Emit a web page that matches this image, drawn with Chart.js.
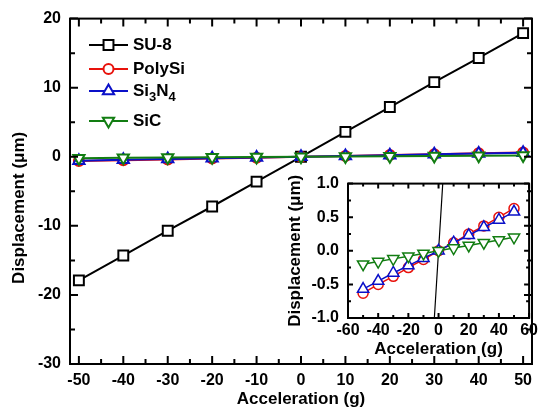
<!DOCTYPE html>
<html>
<head>
<meta charset="utf-8">
<script src="https://cdn.jsdelivr.net/npm/chart.js@4"></script>
<style>
  body { margin: 0; background: #fff; }
  #wrap { position: relative; width: 541px; height: 414px; }
  #main { position: absolute; left: 0; top: 0; }
  #inset { position: absolute; left: 283px; top: 165px; }
</style>
</head>
<body>
<div id="wrap">
  <canvas id="main" width="541" height="414"></canvas>
  <canvas id="inset" width="258" height="195"></canvas>
</div>
<script>
const accel = [-50, -40, -30, -20, -10, 0, 10, 20, 30, 40, 50];
const su8 = [-17.9, -14.3, -10.7, -7.2, -3.6, 0, 3.6, 7.2, 10.8, 14.3, 17.9];
const polySi = [-0.63, -0.50, -0.38, -0.25, -0.13, 0, 0.12, 0.25, 0.37, 0.50, 0.63];
const si3n4 = [-0.57, -0.45, -0.33, -0.22, -0.11, 0, 0.12, 0.23, 0.35, 0.46, 0.58];
const siC = [-0.20, -0.16, -0.12, -0.08, -0.04, 0, 0.04, 0.08, 0.12, 0.16, 0.20];

const mainXTicks = [-50, -40, -30, -20, -10, 0, 10, 20, 30, 40, 50];
const mainYTicks = [-30, -20, -10, 0, 10, 20];
const insetXTicks = [-60, -40, -20, 0, 20, 40, 60];
const insetYTicks = [-1.0, -0.5, 0.0, 0.5, 1.0];

Chart.defaults.font.family = "Arial, 'Liberation Sans', sans-serif";
Chart.defaults.font.weight = 'bold';
Chart.defaults.color = '#000';

const pts = (ys) => accel.map((x, i) => ({ x, y: ys[i] }));

// frame + inward ticks on all four sides
const boxTicks = {
  id: 'boxTicks',
  afterDraw(chart, args, o) {
    const { ctx, chartArea: a, scales: { x, y } } = chart;
    ctx.save();
    ctx.strokeStyle = '#000';
    ctx.lineWidth = o.lw;
    ctx.strokeRect(a.left, a.top, a.right - a.left, a.bottom - a.top);
    const isMajor = (v, step) => Math.abs(v / step - Math.round(v / step)) < 1e-6;
    ctx.beginPath();
    for (let v = Math.ceil(x.min / o.xMinor) * o.xMinor; v <= x.max + 1e-9; v += o.xMinor) {
      const px = x.getPixelForValue(v);
      const len = isMajor(v, o.xMajor) ? o.major : o.minor;
      ctx.moveTo(px, a.bottom); ctx.lineTo(px, a.bottom - len);
      ctx.moveTo(px, a.top); ctx.lineTo(px, a.top + len);
    }
    for (let v = Math.ceil(y.min / o.yMinor - 1e-9) * o.yMinor; v <= y.max + 1e-9; v += o.yMinor) {
      const py = y.getPixelForValue(v);
      const len = isMajor(v, o.yMajor) ? o.major : o.minor;
      ctx.moveTo(a.left, py); ctx.lineTo(a.left + len, py);
      ctx.moveTo(a.right, py); ctx.lineTo(a.right - len, py);
    }
    ctx.stroke();
    ctx.restore();
  }
};

function drawMarker(ctx, style, x, y, r, rot) {
  ctx.beginPath();
  if (style === 'rect') {
    const s = r * Math.SQRT1_2;
    ctx.rect(x - s, y - s, 2 * s, 2 * s);
  } else if (style === 'circle') {
    ctx.arc(x, y, r, 0, Math.PI * 2);
  } else {
    const d = rot ? -1 : 1;
    ctx.moveTo(x, y - d * r);
    ctx.lineTo(x - r * 0.866, y + d * r * 0.5);
    ctx.lineTo(x + r * 0.866, y + d * r * 0.5);
    ctx.closePath();
  }
  ctx.fill();
  ctx.stroke();
}

// legend with subscripts, inside the plot
const legendItems = [
  { parts: [['SU-8', 0]], color: '#000000', style: 'rect', r: 7, rot: 0, y: 45 },
  { parts: [['PolySi', 0]], color: '#e8120c', style: 'circle', r: 5, rot: 0, y: 69 },
  { parts: [['Si', 0], ['3', 1], ['N', 0], ['4', 1]], color: '#0a10c8', style: 'triangle', r: 6.5, rot: 0, y: 91 },
  { parts: [['SiC', 0]], color: '#127d12', style: 'triangle', r: 6.5, rot: 1, y: 121 }
];
const innerLegend = {
  id: 'innerLegend',
  afterDraw(chart) {
    const ctx = chart.ctx;
    ctx.save();
    legendItems.forEach(it => {
      ctx.strokeStyle = it.color;
      ctx.lineWidth = 2;
      ctx.beginPath(); ctx.moveTo(89, it.y); ctx.lineTo(128, it.y); ctx.stroke();
      ctx.fillStyle = '#fff';
      drawMarker(ctx, it.style, 108.5, it.y, it.r, it.rot);
      ctx.fillStyle = '#000';
      ctx.textBaseline = 'middle';
      let tx = 133;
      it.parts.forEach(([t, sub]) => {
        ctx.font = sub ? "bold 13px Arial, 'Liberation Sans', sans-serif" : "bold 17px Arial, 'Liberation Sans', sans-serif";
        ctx.fillText(t, tx, it.y + (sub ? 6 : 0));
        tx += ctx.measureText(t).width;
      });
    });
    ctx.restore();
  }
};

new Chart(document.getElementById('main'), {
  type: 'line',
  data: {
    datasets: [
      { label: 'SU-8', data: pts(su8), borderColor: '#000', pointStyle: 'rect', pointRadius: 7, order: 3 },
      { label: 'PolySi', data: pts(polySi), borderColor: '#e8120c', pointStyle: 'circle', pointRadius: 5, order: 2 },
      { label: 'Si3N4', data: pts(si3n4), borderColor: '#0a10c8', pointStyle: 'triangle', pointRadius: 6.5, order: 1 },
      { label: 'SiC', data: pts(siC), borderColor: '#127d12', pointStyle: 'triangle', pointRotation: 180, pointRadius: 6.5, order: 0 }
    ].map(d => Object.assign({ borderWidth: 2, pointBorderWidth: 2, pointBackgroundColor: '#fff', pointBorderColor: d.borderColor }, d))
  },
  options: {
    responsive: false,
    animation: false,
    layout: { padding: { top: 17, right: 1, left: 0, bottom: 0 } },
    plugins: {
      legend: { display: false },
      tooltip: { enabled: false },
      boxTicks: { lw: 2, xMajor: 10, xMinor: 5, yMajor: 10, yMinor: 5, major: 8, minor: 5 }
    },
    scales: {
      x: {
        type: 'linear', min: -52, max: 52,
        grid: { display: false, drawTicks: false }, border: { display: false },
        afterBuildTicks: s => { s.ticks = mainXTicks.map(v => ({ value: v })); },
        afterFit: s => { s.height = 50; },
        ticks: { font: { size: 16 }, padding: 7, maxRotation: 0, autoSkip: false },
        title: { display: true, text: 'Acceleration (g)', font: { size: 17 }, padding: { top: 0, bottom: 4 } }
      },
      y: {
        min: -30, max: 20,
        grid: { display: false, drawTicks: false }, border: { display: false },
        afterBuildTicks: s => { s.ticks = mainYTicks.map(v => ({ value: v })); },
        afterFit: s => { s.width = 70; },
        ticks: { font: { size: 16 }, padding: 9 },
        title: { display: true, text: 'Displacement (\u03bcm)       ', font: { size: 17 }, padding: { top: 9, bottom: 0 } }
      }
    }
  },
  plugins: [boxTicks, innerLegend]
});

new Chart(document.getElementById('inset'), {
  type: 'line',
  data: {
    datasets: [
      { label: 'SU-8', data: pts(su8), borderColor: '#000', borderWidth: 1.2, pointRadius: 0, order: 3 },
      { label: 'PolySi', data: pts(polySi), borderColor: '#e8120c', pointStyle: 'circle', pointRadius: 5, order: 2 },
      { label: 'Si3N4', data: pts(si3n4), borderColor: '#0a10c8', pointStyle: 'triangle', pointRadius: 6.5, order: 1 },
      { label: 'SiC', data: pts(siC), borderColor: '#127d12', pointStyle: 'triangle', pointRotation: 180, pointRadius: 6.5, order: 0 }
    ].map(d => Object.assign({ borderWidth: 1.5, pointBorderWidth: 1.5, pointBackgroundColor: '#fff', pointBorderColor: d.borderColor }, d))
  },
  options: {
    responsive: false,
    animation: false,
    layout: { padding: { top: 10, right: 11, left: 0, bottom: 0 } },
    plugins: {
      legend: { display: false },
      tooltip: { enabled: false },
      boxTicks: { lw: 2, xMajor: 20, xMinor: 10, yMajor: 0.5, yMinor: 0.25, major: 5, minor: 3 }
    },
    scales: {
      x: {
        type: 'linear', min: -60, max: 60,
        grid: { display: false, drawTicks: false }, border: { display: false },
        afterBuildTicks: s => { s.ticks = insetXTicks.map(v => ({ value: v })); },
        afterFit: s => { s.height = 42; },
        ticks: { font: { size: 16 }, padding: 3, maxRotation: 0, autoSkip: false },
        title: { display: true, text: 'Acceleration (g)', font: { size: 17 }, padding: { top: 0, bottom: 0 } }
      },
      y: {
        min: -1, max: 1,
        grid: { display: false, drawTicks: false }, border: { display: false },
        afterBuildTicks: s => { s.ticks = insetYTicks.map(v => ({ value: v })); },
        afterFit: s => { s.width = 65; },
        ticks: { font: { size: 16 }, padding: 9, callback: v => v.toFixed(1) },
        title: { display: true, text: 'Displacement (\u03bcm)', font: { size: 17 }, padding: { top: 2, bottom: 0 } }
      }
    }
  },
  plugins: [boxTicks]
});
</script>
</body>
</html>
